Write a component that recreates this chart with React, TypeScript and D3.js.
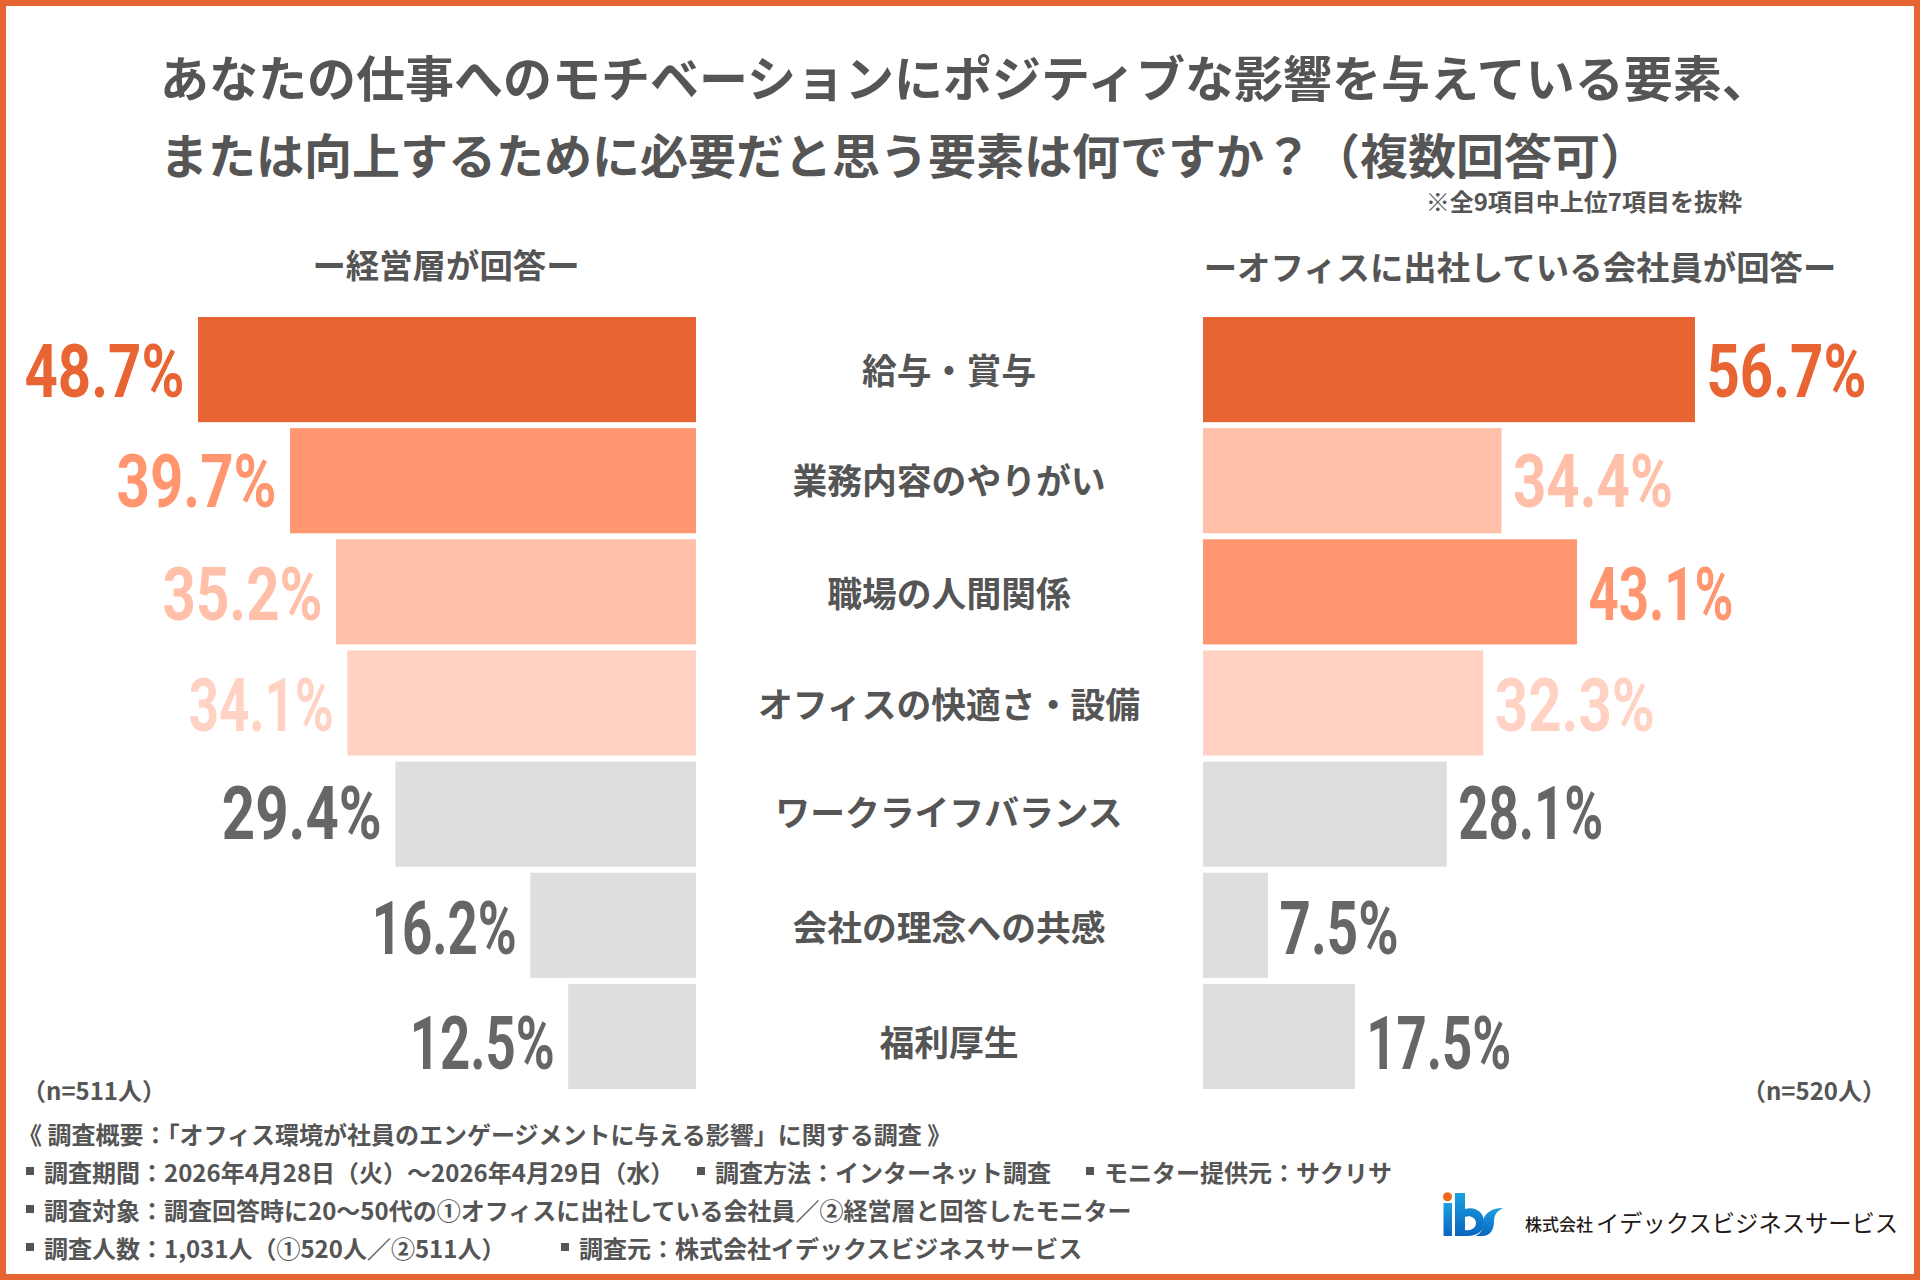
import * as d3 from "d3";

const categories = ["給与・賞与", "業務内容のやりがい", "職場の人間関係", "オフィスの快適さ・設備", "ワークライフバランス", "会社の理念への共感", "福利厚生"];
const executives = [48.7, 39.7, 35.2, 34.1, 29.4, 16.2, 12.5];
const employees = [56.7, 34.4, 43.1, 32.3, 28.1, 7.5, 17.5];
const rankColors = ["#e96433", "#ff9670", "#ffbfa9", "#ffd2c3"];
const titleLines = [
  "あなたの仕事へのモチベーションにポジティブな影響を与えている要素、",
  "または向上するために必要だと思う要素は何ですか？（複数回答可）",
];
const footerHead = "《 調査概要：「オフィス環境が社員のエンゲージメントに与える影響」に関する調査  》";
const footerRows = [
  ["調査期間：2026年4月28日（火）～2026年4月29日（水）", "調査方法：インターネット調査", "モニター提供元：サクリサ"],
  ["調査対象：調査回答時に20～50代の①オフィスに出社している会社員／②経営層と回答したモニター"],
  ["調査人数：1,031人（①520人／②511人）", "調査元：株式会社イデックスビジネスサービス"],
];
const footerX = [
  [26, 697, 1086],
  [26],
  [26, 561],
];

const W = 1920;
const H = 1280;
const JP = "'Noto Sans CJK JP', sans-serif";
const GREY = "#dedede";
const TEXT = "#555555";

const y = d3.scaleBand<string>().domain(categories).range([317, 1089]).paddingInner(0.054);
const xLeft = d3.scaleLinear().domain([0, 48.7]).range([696, 198]);
const xRight = d3.scaleLinear().domain([0, 56.7]).range([1203, 1695]);

// top 4 of each side get the orange ramp, the rest stay grey
function colorsFor(values: number[]) {
  const order = d3.sort(values, (a, b) => b - a);
  return values.map((v) => rankColors[order.indexOf(v)] ?? GREY);
}
function labelColor(c: string) {
  return c === GREY ? "#666666" : c;
}

// the original numerals are a condensed DIN where 1 is narrow, roboto needs squeezing per label
function labelWidth(s: string) {
  const ones = s.split("1").length - 1;
  const short = s.length < 5 ? 41 : 0;
  return 160 - ones * 15 - short;
}

// label rows sit a little lower toward the bottom in the original
const rowNudge = [2.5, 1.5, 3.5, 2.5, -0.5, 3.5, 7.5];

function Side({ values, x, left }: { values: number[]; x: d3.ScaleLinear<number, number>; left: boolean }) {
  const colors = colorsFor(values);
  return (
    <g>
      {values.map((v, i) => {
        const top = y(categories[i]) as number;
        const x0 = x(0);
        const x1 = x(v);
        const cy = top + y.bandwidth() / 2 + rowNudge[i];
        const label = v.toFixed(1) + "%";
        const w = labelWidth(label);
        const lx = left ? x1 - 13.5 - w : x1 + 11.5;
        return (
          <g key={i}>
            <rect x={Math.min(x0, x1)} y={top} width={Math.abs(x1 - x0)} height={y.bandwidth()} fill={colors[i]} />
            <text
              x={lx}
              y={cy + 25}
              textLength={w}
              lengthAdjust="spacingAndGlyphs"
              fontFamily="Roboto, sans-serif"
              fontWeight={700}
              fontSize={75}
              fill={labelColor(colors[i])}
            >
              {label}
            </text>
          </g>
        );
      })}
    </g>
  );
}

function Logo() {
  return (
    <g>
      <defs>
        <linearGradient id="ibsBlue" x1="0" y1="0" x2="0" y2="1">
          <stop offset="0" stopColor="#1aa0e0" />
          <stop offset="1" stopColor="#0a66c0" />
        </linearGradient>
      </defs>
      <circle cx={1447.5} cy={1196.7} r={4.5} fill="#ee6a1f" />
      <rect x={1443.5} y={1203} width={8.5} height={33} fill="url(#ibsBlue)" />
      <path
        d="M1455 1193h10v16c10-3 19 3 19 13 0 9-7 14-16 14h-13z M1465 1217v13c6 1 11-2 11-7s-6-8-11-6z"
        fill="url(#ibsBlue)"
        fillRule="evenodd"
      />
      <path d="M1503 1208c-6 3-9 7-9 13 0 9-4 15-12 15h-7c4-1 8-5 8-13 0-9 8-15 20-15z" fill="url(#ibsBlue)" />
    </g>
  );
}

export default function App() {
  return (
    <svg width={W} height={H} viewBox={`0 0 ${W} ${H}`} style={{ position: "absolute", left: 0, top: 0, background: "#fff" }}>
      <rect x={3} y={3} width={W - 6} height={H - 6} fill="#fff" stroke="#e96433" strokeWidth={6} />

      <g fontFamily={JP} fontWeight={700} fill={TEXT}>
        <text x={160} y={97} fontSize={49}>
          {titleLines[0]}
        </text>
        <text x={160} y={174} fontSize={48}>
          {titleLines[1]}
        </text>
        <text x={1742} y={211} fontSize={24} textAnchor="end">
          ※全9項目中上位7項目を抜粋
        </text>
        <text x={446} y={278} fontSize={33.4} textAnchor="middle">
          ー経営層が回答ー
        </text>
        <text x={1520} y={280} fontSize={33.4} textAnchor="middle">
          ーオフィスに出社している会社員が回答ー
        </text>
      </g>

      <Side values={executives} x={xLeft} left />
      <Side values={employees} x={xRight} left={false} />

      <g fontFamily={JP} fontWeight={700} fill={TEXT} fontSize={34.8} textAnchor="middle">
        {categories.map((c, i) => (
          <text key={c} x={949} y={(y(c) as number) + y.bandwidth() / 2 + rowNudge[i] + 12}>
            {c}
          </text>
        ))}
      </g>

      <g fontFamily={JP} fontWeight={700} fill={TEXT} fontSize={24}>
        <text x={22} y={1100}>（n=511人）</text>
        <text x={1886} y={1100} textAnchor="end">（n=520人）</text>
        <text x={18} y={1144}>{footerHead}</text>
        {footerRows.map((parts, r) =>
          parts.map((t, j) => (
            <g key={`${r}-${j}`}>
              <rect x={footerX[r][j]} y={1144 + (r + 1) * 38 - 15} width={8} height={8} fill={TEXT} />
              <text x={footerX[r][j] + 18} y={1144 + (r + 1) * 38}>
                {t}
              </text>
            </g>
          )),
        )}
      </g>

      <Logo />
      <g fontFamily={JP} fill="#231815">
        <text x={1525} y={1231} fontSize={17} fontWeight={500}>株式会社</text>
        <text x={1596} y={1232} fontSize={23.3} fontWeight={400}>イデックスビジネスサービス</text>
      </g>
    </svg>
  );
}
